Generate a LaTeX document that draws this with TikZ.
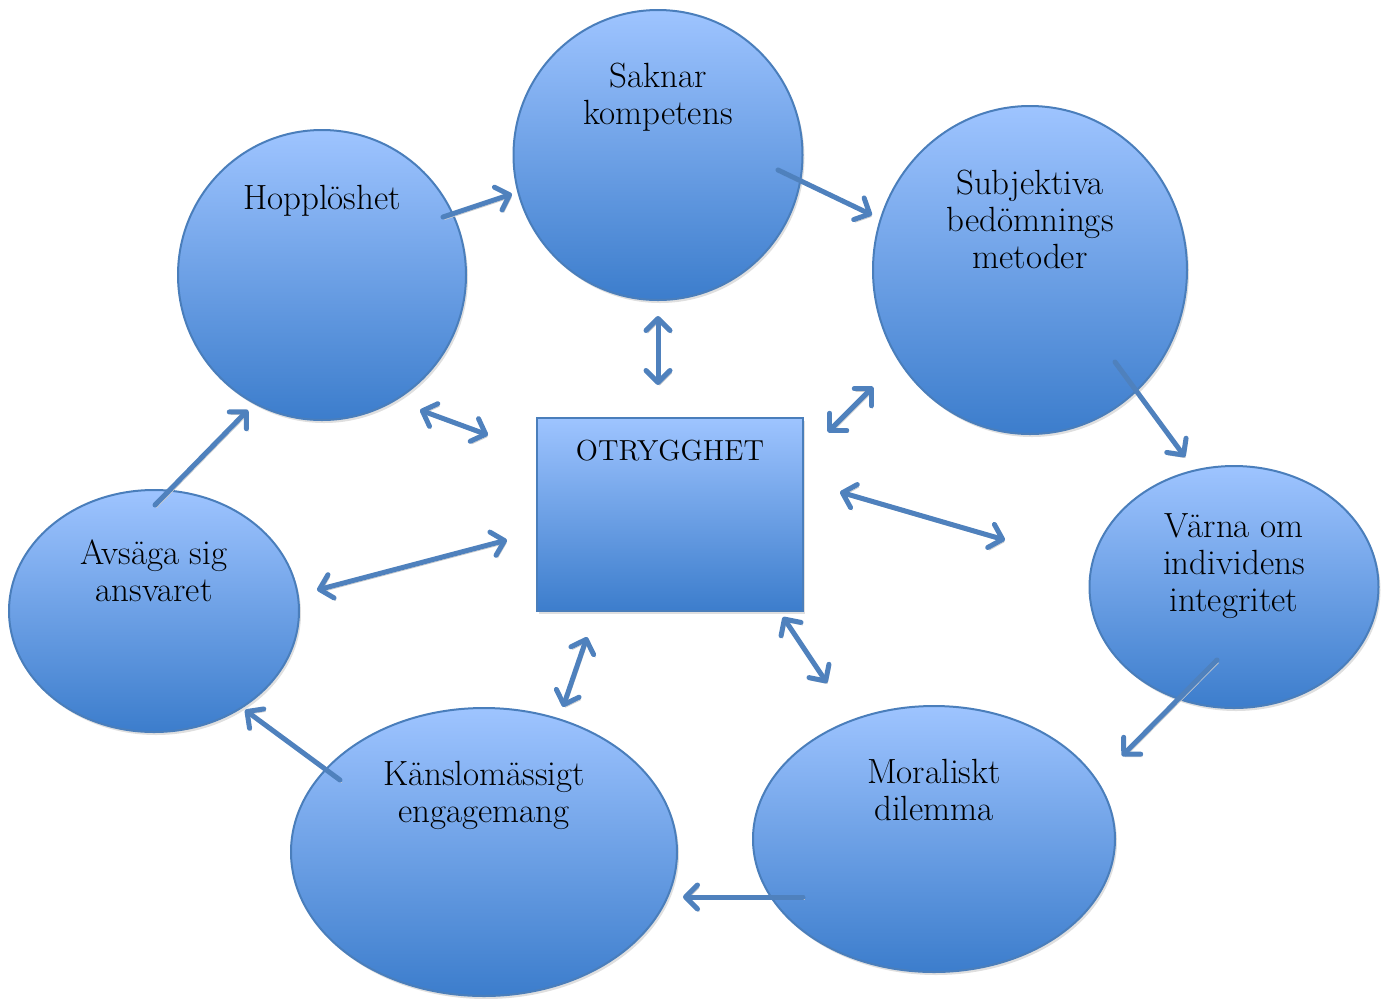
\documentclass[tikz,border=0pt]{standalone}
\usepackage{tikz}
\usetikzlibrary{shapes.geometric, arrows.meta, calc, shadows}

\definecolor{topblue}{RGB}{158,196,255}
\definecolor{botblue}{RGB}{60,125,204}
\definecolor{edgeblue}{RGB}{74,126,187}
\definecolor{arrowblue}{RGB}{79,129,189}

\begin{document}
\begin{tikzpicture}[
        x=0.5pt, y=-0.5pt,
        bubble/.style={ellipse, draw=edgeblue, line width=1pt, inner sep=0pt,
                    top color=topblue, bottom color=botblue,
                    drop shadow={shadow xshift=1pt, shadow yshift=-1.5pt, opacity=0.25}},
        centerbox/.style={rectangle, draw=edgeblue, line width=1pt, inner sep=0pt,
                    top color=topblue, bottom color=botblue,
                    minimum width=133pt, minimum height=96.5pt,
                    drop shadow={shadow xshift=1pt, shadow yshift=-1.5pt, opacity=0.25}},
        txt/.style={font=\fontsize{17.5}{18.5}\selectfont, align=center, inner sep=0pt},
        arr/.style={line width=2.5pt, arrowblue, line cap=round,
                    -{Straight Barb[length=6pt, width=12pt, round]},
                    preaction={draw=black!20, transform canvas={shift={(0.8pt,-1.3pt)}}}},
        dbl/.style={arr, {Straight Barb[length=6pt, width=12pt, round]}-{Straight Barb[length=6pt, width=12pt, round]}}
    ]
    \useasboundingbox (0,0) rectangle (1383,998);

    % Ring of bubbles
    \node[bubble, minimum width=144.5pt, minimum height=145pt] (sak)   at (658,155) {};
    \node[bubble, minimum width=157pt,   minimum height=164pt] (subj)  at (1030,270) {};
    \node[bubble, minimum width=144.5pt, minimum height=121pt] (varna) at (1234,587) {};
    \node[bubble, minimum width=181pt,   minimum height=133pt] (moral) at (934,839) {};
    \node[bubble, minimum width=193pt,   minimum height=144pt] (kansl) at (484,852) {};
    \node[bubble, minimum width=145pt,   minimum height=121pt] (avsag) at (154,611) {};
    \node[bubble, minimum width=144pt,   minimum height=145pt] (hopp)  at (322,275) {};

    % Centre
    \node[centerbox] (otr) at (670,514.5) {};

    % Texts
    \node[txt] (sakT)   at ($(sak)+(0,-58)$)   {Saknar\\kompetens};
    \node[txt] (subjT)  at ($(subj)+(0,-51)$)  {Subjektiva\\bed\"omnings\\metoder};
    \node[txt] (varnaT) at ($(varna)+(0,-21)$) {V\"arna om\\individens\\integritet};
    \node[txt] (moralT) at ($(moral)+(0,-49)$) {Moraliskt\\dilemma};
    \node[txt] (kanslT) at ($(kansl)+(0,-57)$) {K\"anslom\"assigt\\engagemang};
    \node[txt] (avsagT) at ($(avsag)+(0,-40)$) {Avs\"aga sig\\ansvaret};
    \node[txt] (hoppT)  at ($(hopp)+(0,-74)$)  {Hoppl\"oshet};
    \node[txt, font=\fontsize{14.5}{18.5}\selectfont] (otrT) at ($(otr)+(0,-64)$) {OTRYGGHET};

    % Cycle
    \draw[arr] ($(hopp)+(121,-58)$)  -- ($(sak)+(-146,39)$);
    \draw[arr] ($(sak)+(120,15)$)    -- ($(subj)+(-158,-55)$);
    \draw[arr] ($(subj)+(85,92)$)    -- ($(varna)+(-49,-130)$);
    \draw[arr] ($(varna)+(-17,73)$)  -- ($(moral)+(188,-83)$);
    \draw[arr] ($(moral)+(-131,58)$) -- ($(kansl)+(199,45)$);
    \draw[arr] ($(kansl)+(-144,-72)$) -- ($(avsag)+(91,99)$);
    \draw[arr] ($(avsag)+(1,-106)$)  -- ($(hopp)+(-74,135)$);

    % Links to the centre
    \draw[dbl] ($(sak)+(0,161)$)      -- ($(otr)+(-12,-129.5)$);
    \draw[dbl] ($(hopp)+(98,135)$)    -- ($(otr)+(-182,-79.5)$);
    \draw[dbl] ($(subj)+(-157,117)$)  -- ($(otr)+(158,-82.5)$);
    \draw[dbl] ($(avsag)+(163,-21)$)  -- ($(otr)+(-163,25.5)$);
    \draw[dbl] ($(otr)+(170,-22.5)$)  -- ($(varna)+(-229,-47)$);
    \draw[dbl] ($(kansl)+(79,-145)$)  -- ($(otr)+(-83,122.5)$);
    \draw[dbl] ($(moral)+(-107,-156)$) -- ($(otr)+(113,102.5)$);
\end{tikzpicture}
\end{document}
